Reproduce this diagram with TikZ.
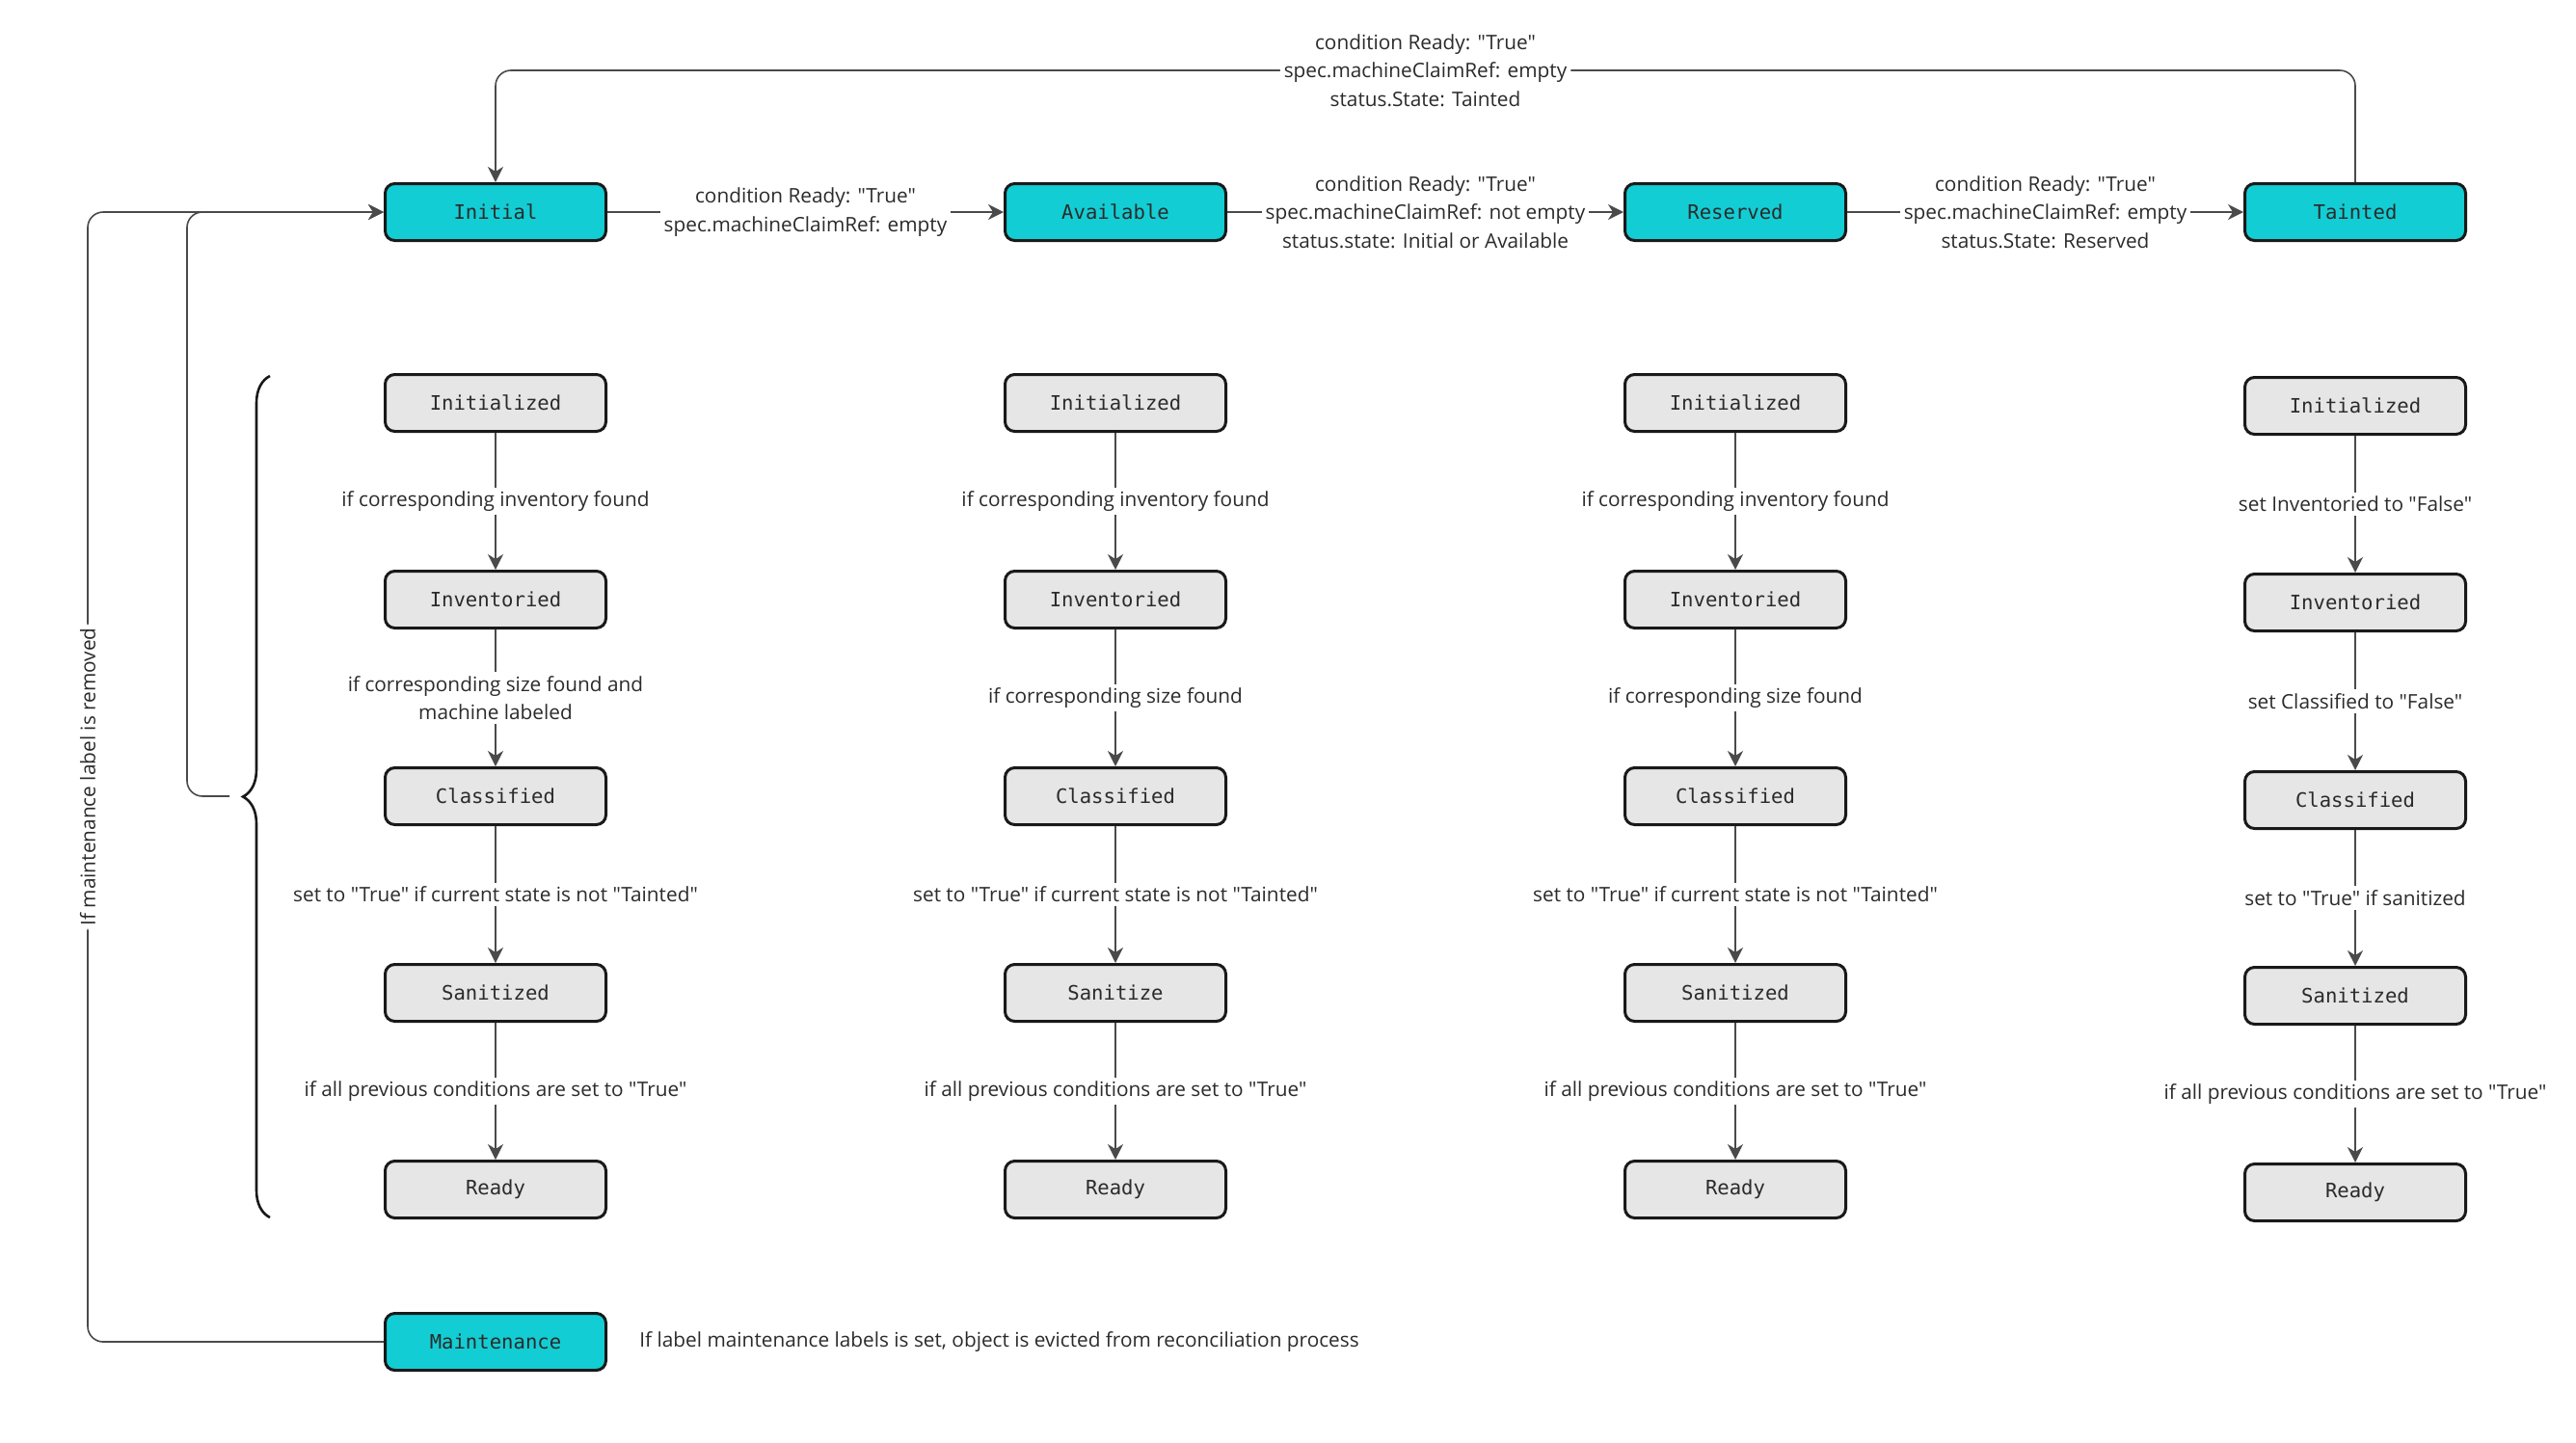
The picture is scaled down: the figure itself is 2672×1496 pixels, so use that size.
\documentclass[tikz,border=0pt]{standalone}
\usepackage{fontspec}
\setmainfont{Open Sans}[Ligatures=TeXOff]
\setmonofont{DejaVu Sans Mono}
\usetikzlibrary{arrows.meta,decorations.pathreplacing}
\definecolor{cyanfill}{HTML}{13CDD4}
\definecolor{grayfill}{HTML}{E6E6E6}
\definecolor{linegray}{HTML}{4A4A4A}
\definecolor{textgray}{HTML}{2B2B2B}
\begin{document}
\begin{tikzpicture}[x=0.5pt,y=-0.5pt,
  state/.style={draw=black!90, line width=1.5pt, rounded corners=5pt,
    minimum width=114.5pt, minimum height=29.5pt, inner sep=0pt,
    font=\ttfamily\fontsize{10.3}{12}\selectfont, text=textgray},
  topstate/.style={state, fill=cyanfill},
  substate/.style={state, fill=grayfill},
  conn/.style={draw=linegray, line width=0.8pt,
    -{Stealth[length=8pt,width=8pt,inset=2.5pt]}},
  lab/.style={fill=white, font=\fontsize{10.4}{14.8}\selectfont,
    align=center, inner sep=2pt, text=textgray}
]
\useasboundingbox (0,0) rectangle (2672,1496);

% top row
\node[topstate] (initial)   at (514,220)  {Initial};
\node[topstate] (available) at (1157,220) {Available};
\node[topstate] (reserved)  at (1800,220) {Reserved};
\node[topstate] (tainted)   at (2443,220) {Tainted};
\node[topstate] (maint)     at (514,1392) {Maintenance};

\draw[conn] (initial) -- node[lab]{condition Ready: "True"\\spec.machineClaimRef: empty} (available);
\draw[conn] (available) -- node[lab]{condition Ready: "True"\\spec.machineClaimRef: not empty\\status.state: Initial or Available} (reserved);
\draw[conn] (reserved) -- node[lab]{condition Ready: "True"\\spec.machineClaimRef: empty\\status.State: Reserved} (tainted);

\coordinate (topy) at (0,73);
\draw[conn, rounded corners=8pt] (tainted.north) -- (tainted.north |- topy)
  -- node[lab]{condition Ready: "True"\\spec.machineClaimRef: empty\\status.State: Tainted} (initial.north |- topy)
  -- (initial.north);

% column 1
\node[substate] (c1a) at (514,418)  {Initialized};
\node[substate] (c1b) at (514,622)  {Inventoried};
\node[substate] (c1c) at (514,826)  {Classified};
\node[substate] (c1d) at (514,1030) {Sanitized};
\node[substate] (c1e) at (514,1234) {Ready};
\draw[conn] (c1a) -- node[lab]{if corresponding inventory found} (c1b);
\draw[conn] (c1b) -- node[lab]{if corresponding size found and\\machine labeled} (c1c);
\draw[conn] (c1c) -- node[lab]{set to "True" if current state is not "Tainted"} (c1d);
\draw[conn] (c1d) -- node[lab]{if all previous conditions are set to "True"} (c1e);

% column 2
\node[substate] (c2a) at (1157,418)  {Initialized};
\node[substate] (c2b) at (1157,622)  {Inventoried};
\node[substate] (c2c) at (1157,826)  {Classified};
\node[substate] (c2d) at (1157,1030) {Sanitize};
\node[substate] (c2e) at (1157,1234) {Ready};
\draw[conn] (c2a) -- node[lab]{if corresponding inventory found} (c2b);
\draw[conn] (c2b) -- node[lab]{if corresponding size found} (c2c);
\draw[conn] (c2c) -- node[lab]{set to "True" if current state is not "Tainted"} (c2d);
\draw[conn] (c2d) -- node[lab]{if all previous conditions are set to "True"} (c2e);

% column 3
\node[substate] (c3a) at (1800,418)  {Initialized};
\node[substate] (c3b) at (1800,622)  {Inventoried};
\node[substate] (c3c) at (1800,826)  {Classified};
\node[substate] (c3d) at (1800,1030) {Sanitized};
\node[substate] (c3e) at (1800,1234) {Ready};
\draw[conn] (c3a) -- node[lab]{if corresponding inventory found} (c3b);
\draw[conn] (c3b) -- node[lab]{if corresponding size found} (c3c);
\draw[conn] (c3c) -- node[lab]{set to "True" if current state is not "Tainted"} (c3d);
\draw[conn] (c3d) -- node[lab]{if all previous conditions are set to "True"} (c3e);

% column 4
\node[substate] (c4a) at (2443,421)  {Initialized};
\node[substate] (c4b) at (2443,625)  {Inventoried};
\node[substate] (c4c) at (2443,830)  {Classified};
\node[substate] (c4d) at (2443,1033) {Sanitized};
\node[substate] (c4e) at (2443,1237) {Ready};
\draw[conn] (c4a) -- node[lab]{set Inventoried to "False"} (c4b);
\draw[conn] (c4b) -- node[lab]{set Classified to "False"} (c4c);
\draw[conn] (c4c) -- node[lab]{set to "True" if sanitized} (c4d);
\draw[conn] (c4d) -- node[lab]{if all previous conditions are set to "True"} (c4e);

% brace
\draw[black!90, line width=1.3pt, decorate, decoration={brace, amplitude=14pt}]
  (280,1263) -- (280,390);
\coordinate (bracetip) at (238,826);
\coordinate (innerx) at (194,0);
\coordinate (outerx) at (91,0);

\draw[conn, rounded corners=8pt] (bracetip) -- (bracetip -| innerx)
  -- (initial.west -| innerx) -- (initial.west);
\draw[conn, rounded corners=8pt] (maint.west) -- (maint.west -| outerx)
  -- node[lab, rotate=90]{If maintenance label is removed} (initial.west -| outerx)
  -- (initial.west);

\node[anchor=west, font=\fontsize{10.4}{14}\selectfont, text=textgray, inner sep=0pt]
  (note) at (663,1392) {If label maintenance labels is set, object is evicted from reconciliation process};
\end{tikzpicture}
\end{document}
